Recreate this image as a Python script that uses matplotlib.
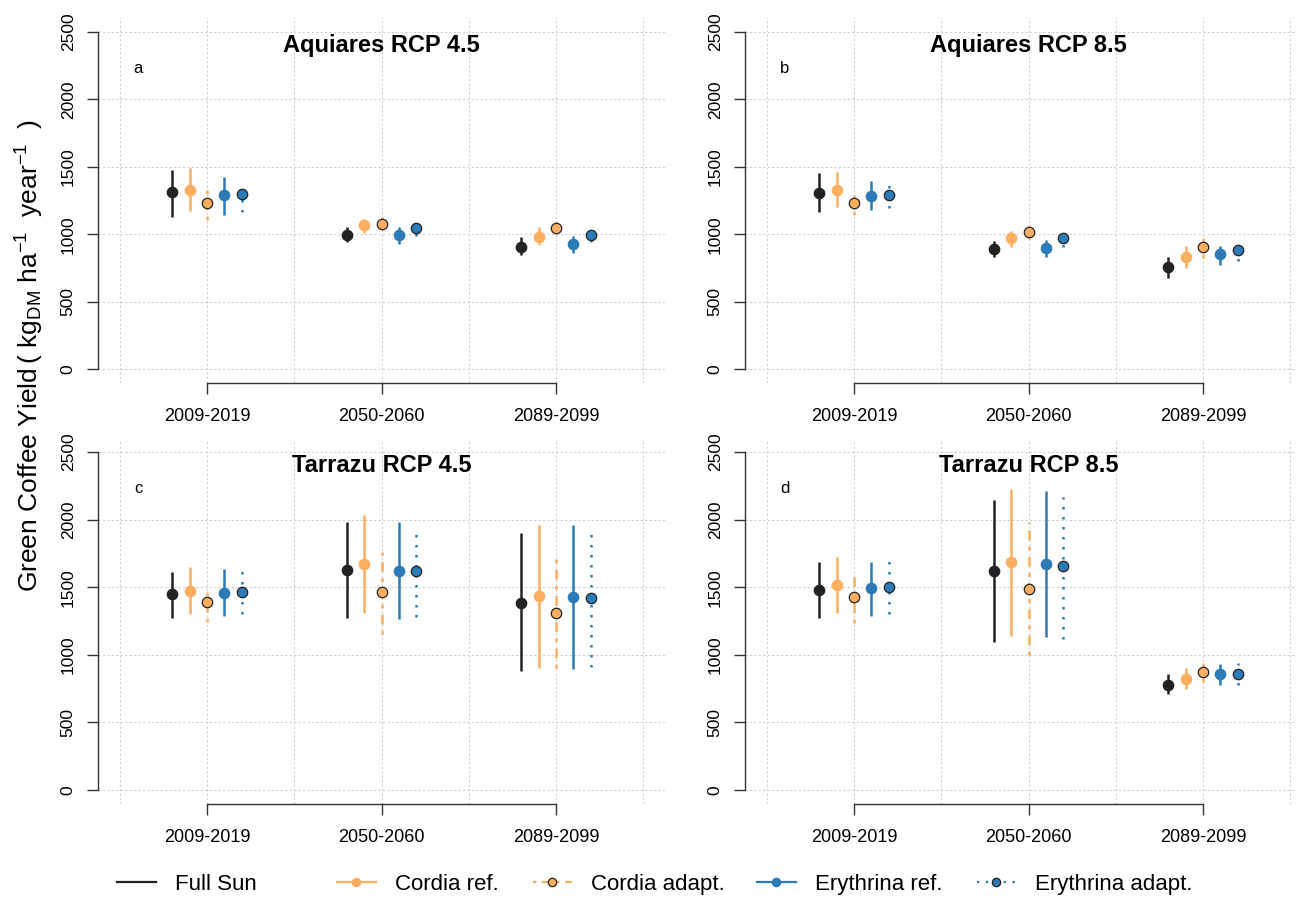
import matplotlib
matplotlib.use("Agg")
import matplotlib.pyplot as plt
from matplotlib.lines import Line2D

plt.rcParams["font.family"] = ["Liberation Sans", "DejaVu Sans"]
plt.rcParams["mathtext.default"] = "regular"

# ------------------------------------------------------------------ #
# Data (kg DM / ha / year), rows = series, cols = periods
# ------------------------------------------------------------------ #
periods = ["2009-2019", "2050-2060", "2089-2099"]
series = ["Full Sun", "Cordia ref.", "Cordia adapt.", "Erythrina ref.", "Erythrina adapt."]
titles = ["Aquiares RCP 4.5", "Aquiares RCP 8.5", "Tarrazu RCP 4.5", "Tarrazu RCP 8.5"]
letters = ["a", "b", "c", "d"]

aq45_mean = [[1311, 996, 907], [1328, 1066, 981], [1229, 1078, 1044], [1289, 992, 925], [1296, 1044, 992]]
aq45_low = [[1130, 940, 846], [1172, 1007, 920], [1105, 1031, 1007], [1145, 927, 863], [1162, 987, 940]]
aq45_high = [[1476, 1051, 977], [1494, 1113, 1051], [1352, 1125, 1093], [1422, 1051, 989], [1390, 1105, 1048]]

aq85_mean = [[1308, 890, 754], [1328, 970, 833], [1234, 1016, 907], [1286, 898, 851], [1293, 970, 883]]
aq85_low = [[1162, 833, 677], [1204, 907, 751], [1142, 962, 821], [1180, 833, 772], [1192, 907, 801]]
aq85_high = [[1452, 950, 829], [1459, 1024, 912], [1308, 1066, 994], [1395, 957, 915], [1372, 1031, 925]]

ta45_mean = [[1450, 1627, 1385], [1474, 1669, 1435], [1393, 1467, 1311], [1460, 1622, 1430], [1467, 1622, 1423]]
ta45_low = [[1275, 1270, 882], [1299, 1307, 905], [1245, 1152, 905], [1289, 1263, 893], [1299, 1277, 912]]
ta45_high = [[1615, 1980, 1899], [1649, 2034, 1960], [1504, 1758, 1714], [1632, 1980, 1960], [1640, 1943, 1899]]

ta85_mean = [[1479, 1622, 780], [1516, 1684, 820], [1430, 1487, 870], [1497, 1669, 855], [1501, 1657, 860]]
ta85_low = [[1270, 1097, 710], [1307, 1141, 750], [1238, 999, 800], [1289, 1129, 780], [1299, 1117, 780]]
ta85_high = [[1689, 2145, 860], [1721, 2224, 900], [1620, 1985, 940], [1689, 2212, 930], [1696, 2165, 940]]

# ------------------------------------------------------------------ #
# Styling
# ------------------------------------------------------------------ #
BLACK = "#222222"
ORANGE = "#FDAE61"
BLUE = "#2C7BB6"
GRID = "#d0d0d0"

colors = [BLACK, ORANGE, ORANGE, BLUE, BLUE]
edges = [BLACK, ORANGE, BLACK, BLUE, BLACK]
styles = ["-", "-", (0, (1.5, 2.5, 4, 2.5)), "-", (0, (1, 3))]
offsets = [-0.4, -0.2, 0.0, 0.2, 0.4]
centers = [1, 3, 5]

W, H = 1296, 897
fig = plt.figure(figsize=(W / 100, H / 100), dpi=100)

# axes boxes in pixels: left, top, bottom (width shared)
boxes = [(98, 18.5, 382.5), (745, 18.5, 382.5), (98, 438.5, 803.5), (745, 438.5, 803.5)]
ax_w = 567

panels = [
    (aq45_mean, aq45_low, aq45_high),
    (aq85_mean, aq85_low, aq85_high),
    (ta45_mean, ta45_low, ta45_high),
    (ta85_mean, ta85_low, ta85_high),
]

for k, (mean, low, high) in enumerate(panels):
    left, top, bottom = boxes[k]
    ax = fig.add_axes([left / W, (H - bottom) / H, ax_w / W, (bottom - top) / H])
    ax.set_xlim(-0.25, 6.25)
    ax.set_ylim(-100, 2600)

    for gx in range(0, 7):
        ax.axvline(gx, color=GRID, lw=0.8, ls=(0, (2, 2)), zorder=0)
    for gy in range(0, 2501, 500):
        ax.axhline(gy, color=GRID, lw=0.8, ls=(0, (2, 2)), zorder=0)

    for i in range(len(series)):
        xs = [c + offsets[i] for c in centers]
        ax.vlines(xs, low[i], high[i], colors=colors[i], linestyles=styles[i], lw=1.8, zorder=2)
        ax.plot(xs, mean[i], "o", ms=7.5, color=colors[i], mec=edges[i], mew=0.9, zorder=3)

    for s in ["top", "right"]:
        ax.spines[s].set_visible(False)
    ax.spines["left"].set_bounds(0, 2500)
    ax.spines["bottom"].set_bounds(1, 5)
    for s in ["left", "bottom"]:
        ax.spines[s].set_color("#333333")
        ax.spines[s].set_linewidth(1.0)

    ax.set_yticks(range(0, 2501, 500))
    ax.set_yticklabels([str(v) for v in range(0, 2501, 500)], rotation=90, va="center")
    ax.set_xticks(centers)
    ax.set_xticklabels(periods)
    ax.tick_params(axis="y", direction="out", length=8, width=1.0, color="#333333", labelsize=12.5, pad=8)
    ax.tick_params(axis="x", direction="out", length=8, width=1.0, color="#333333", labelsize=13, pad=10)

    ax.text(0.5, 0.927, titles[k], transform=ax.transAxes, ha="center", va="center",
            fontsize=17, fontweight="bold")
    ax.text(0.0705, 0.864, letters[k], transform=ax.transAxes, ha="center", va="center", fontsize=12)

fig.text(30 / W, 1 - 356 / H,
         r"Green Coffee Yield$\,($ kg$_{DM}$ ha$^{-1}$  year$^{-1}$  )",
         rotation=90, ha="center", va="center", fontsize=19)

# legend, one entry per slot along the bottom
leg_x = [117, 337, 533, 757, 977]
for i, name in enumerate(series):
    marker = None if i == 0 else "o"
    h = Line2D([0], [0], color=colors[i], ls=styles[i], lw=1.6, marker=marker,
               ms=6, mfc=colors[i], mec=edges[i], mew=0.9)
    fig.legend(handles=[h], labels=[name], loc="center left",
               bbox_to_anchor=(leg_x[i] / W, 1 - 884 / H), frameon=False,
               fontsize=16, handlelength=1.75, handletextpad=0.85,
               borderpad=0, borderaxespad=0)

fig.savefig("out.png", dpi=100)
